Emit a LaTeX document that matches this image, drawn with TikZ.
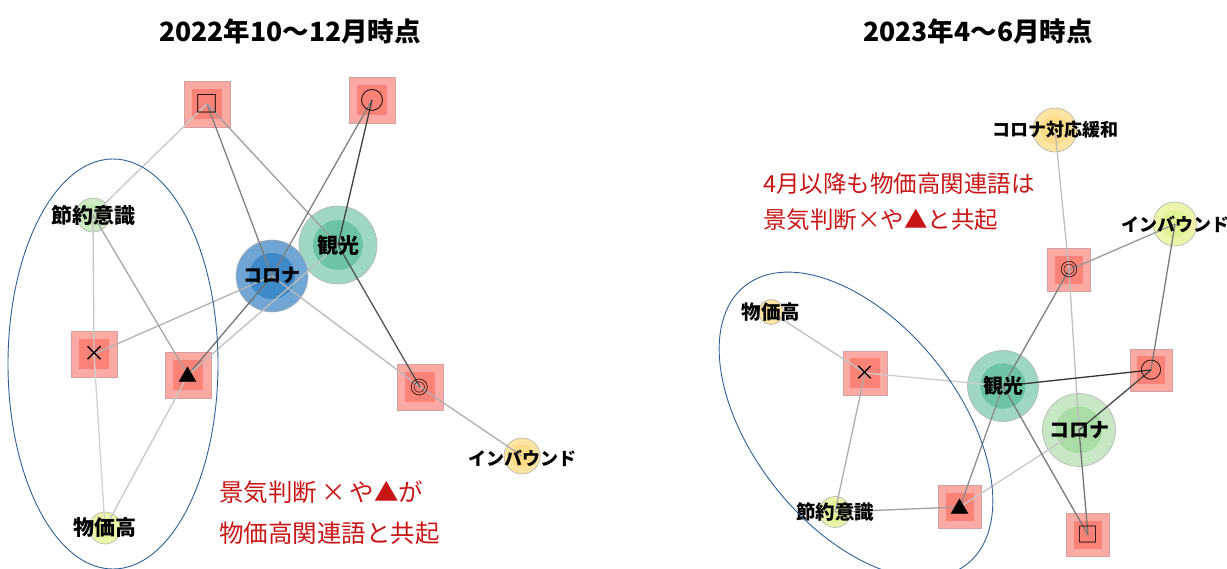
\documentclass[tikz,border=0pt]{standalone}
\usepackage{fontspec}
\setmainfont{Noto Sans CJK JP}
\definecolor{sqout}{RGB}{250,170,162}
\definecolor{sqin}{RGB}{250,130,118}
\definecolor{sqline}{RGB}{215,160,160}
\definecolor{corLo}{RGB}{112,165,212}
\definecolor{corLi}{RGB}{62,137,199}
\definecolor{kano}{RGB}{158,216,196}
\definecolor{kani}{RGB}{108,196,164}
\definecolor{pgo}{RGB}{205,235,195}
\definecolor{pgi}{RGB}{190,228,178}
\definecolor{ygo}{RGB}{236,245,170}
\definecolor{ygi}{RGB}{228,242,150}
\definecolor{pyo}{RGB}{253,228,160}
\definecolor{pyi}{RGB}{252,218,135}
\definecolor{corRo}{RGB}{200,232,197}
\definecolor{corRi}{RGB}{170,220,165}
\definecolor{redtxt}{RGB}{200,22,22}
\definecolor{ellblue}{RGB}{46,95,150}
\tikzset{
  sq/.style={rectangle, minimum size=#1pt, inner sep=0pt, fill=sqout, draw=sqline, line width=0.6pt,
    path picture={\fill[sqin] ([xshift={-0.33*#1pt},yshift={-0.33*#1pt}]path picture bounding box.center) rectangle ([xshift={0.33*#1pt},yshift={0.33*#1pt}]path picture bounding box.center);}},
  bub/.style n args={3}{circle, minimum size=#3pt, inner sep=0pt, fill=#1, draw=black!30, line width=0.6pt,
    path picture={\fill[#2] (path picture bounding box.center) circle[radius={0.32*#3pt}];}},
  ed/.style={line width=1.3pt, draw=black!#1},
  lab/.style={font=\bfseries\fontsize{#1}{#1}\selectfont, inner sep=0pt, text=black},
  sym/.style={font=\fontsize{#1}{#1}\selectfont, inner sep=0pt, text=black},
  ttl/.style={font=\bfseries\fontsize{26.5}{26.5}\selectfont, inner sep=0pt},
  note/.style={font=\fontsize{#1}{#1}\selectfont, text=redtxt, anchor=west, inner sep=0pt},
  grp/.style={draw=ellblue, line width=0.9pt},
}
\begin{document}
\begin{tikzpicture}[x=1pt,y=-1pt]
\useasboundingbox (0,0) rectangle (1227,569);
% ---------- titles
\node[ttl] (t1) at (290,31) {2022年10～12月時点};
\node[ttl] (t2) at (978,31) {2023年4～6月時点};
% ---------- left shapes
\node[sq=46] (lsq) at (207,104) {};
\node[sq=46] (lci) at (372,100) {};
\node[bub={pgo}{pgi}{34}] (lset) at (93,215) {};
\node[bub={kano}{kani}{78}] (lkan) at (338,245) {};
\node[bub={corLo}{corLi}{72}] (lcor) at (272,276) {};
\node[sq=46] (lx) at (94,354) {};
\node[sq=46] (ltri) at (188,375) {};
\node[sq=46] (ldc) at (420,387) {};
\node[bub={pyo}{pyi}{36}] (linb) at (522,456) {};
\node[bub={ygo}{ygi}{32}] (lbuk) at (105,528) {};
% ---------- left edges
\draw[ed=22] (lsq.center) -- (lset.center);
\draw[ed=50] (lsq.center) -- (lcor.center);
\draw[ed=38] (lsq.center) -- (lkan.center);
\draw[ed=50] (lci.center) -- (lcor.center);
\draw[ed=75] (lci.center) -- (lkan.center);
\draw[ed=22] (lset.center) -- (lx.center);
\draw[ed=35] (lset.center) -- (ltri.center);
\draw[ed=30] (lx.center) -- (lcor.center);
\draw[ed=18] (lx.center) -- (lbuk.center);
\draw[ed=55] (ltri.center) -- (lcor.center);
\draw[ed=25] (ltri.center) -- (lkan.center);
\draw[ed=22] (ltri.center) -- (lbuk.center);
\draw[ed=28] (lcor.center) -- (ldc.center);
\draw[ed=68] (lkan.center) -- (ldc.center);
\draw[ed=32] (ldc.center) -- (linb.center);
% ---------- left labels
\node[sym=23] (lsqt) at (lsq) {□};
\node[sym=24] (lcit) at (lci) {○};
\node[sym=22] (lxt) at (lx) {×};
\node[sym=19] (ltrit) at (ltri) {▲};
\node[sym=18.5] (ldct) at (ldc) {◎};
\node[lab=21] (lsetl) at (lset) {節約意識};
\node[lab=21] (lkanl) at (lkan) {観光};
\node[lab=19] (lcorl) at (lcor) {コロナ};
\node[lab=18] (linbl) at ([yshift=-2pt]linb.center) {インバウンド};
\node[lab=21] (lbukl) at (lbuk) {物価高};
% group and note
\draw[grp] (113,364) ellipse [x radius=105pt, y radius=205pt];
\node[note=24.5] (ln1) at (219,492) {景気判断\,×\,や▲が};
\node[note=24.5] (ln2) at (219,533) {物価高関連語と共起};
% ---------- right shapes
\node[bub={pyo}{pyi}{44}] (rrel) at (1055,130) {};
\node[bub={ygo}{ygi}{44}] (rinb) at (1175,224) {};
\node[sq=43] (rdc) at (1069,270) {};
\node[bub={pyo}{pyi}{25}] (rbuk) at (771,312) {};
\node[sq=44] (rx) at (865,373) {};
\node[bub={kano}{kani}{71}] (rkan) at (1003,386) {};
\node[sq=42] (rci) at (1151,370) {};
\node[bub={corRo}{corRi}{73}] (rcor) at (1079,430) {};
\node[sq=43] (rtri) at (960,507) {};
\node[bub={ygo}{ygi}{31}] (rset) at (835,512) {};
\node[sq=43] (rsq) at (1088,535) {};
% ---------- right edges
\draw[ed=25] (rrel.center) -- (rdc.center);
\draw[ed=40] (rdc.center) -- (rinb.center);
\draw[ed=50] (rdc.center) -- (rkan.center);
\draw[ed=25] (rdc.center) -- (rcor.center);
\draw[ed=52] (rinb.center) -- (rci.center);
\draw[ed=25] (rbuk.center) -- (rx.center);
\draw[ed=20] (rx.center) -- (rkan.center);
\draw[ed=32] (rx.center) -- (rset.center);
\draw[ed=38] (rset.center) -- (rtri.center);
\draw[ed=45] (rtri.center) -- (rkan.center);
\draw[ed=22] (rtri.center) -- (rcor.center);
\draw[ed=80] (rkan.center) -- (rci.center);
\draw[ed=72] (rci.center) -- (rcor.center);
\draw[ed=52] (rkan.center) -- (rsq.center);
\draw[ed=55] (rcor.center) -- (rsq.center);
% ---------- right labels
\node[sym=18] (rdct) at (rdc) {◎};
\node[sym=21] (rxt) at (rx) {×};
\node[sym=22] (rcit) at (rci) {○};
\node[sym=19] (rtrit) at (rtri) {▲};
\node[sym=21] (rsqt) at (rsq) {□};
\node[lab=18] (rrell) at (rrel) {コロナ対応緩和};
\node[lab=18] (rinbl) at (rinb) {インバウンド};
\node[lab=19.5] (rbukl) at (rbuk) {物価高};
\node[lab=20] (rkanl) at (rkan) {観光};
\node[lab=20] (rcorl) at (rcor) {コロナ};
\node[lab=19.5] (rsetl) at (rset) {節約意識};
% group and note
\draw[grp, rotate around={-51.3:(856,425)}] (856,425) ellipse [x radius=178pt, y radius=102pt];
\node[note=23.5] (rn1) at (763,184) {4月以降も物価高関連語は};
\node[note=23.5] (rn2) at (763,220) {景気判断×や▲と共起};
\end{tikzpicture}
\end{document}
